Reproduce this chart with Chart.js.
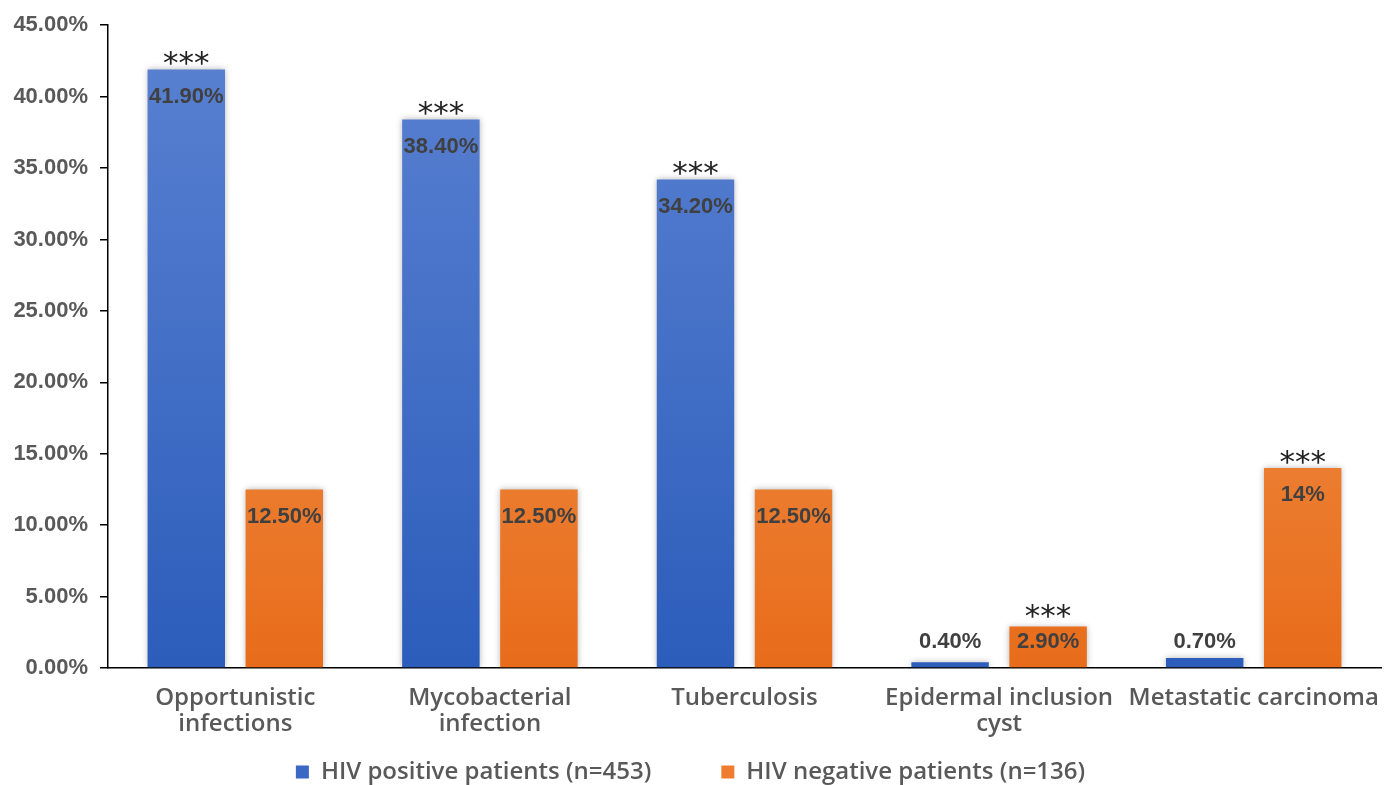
<!DOCTYPE html>
<html>
<head>
<meta charset="utf-8">
<script src="https://cdn.jsdelivr.net/npm/chart.js@4"></script>
<style>
html,body{margin:0;padding:0;background:#fff;}
#wrap{width:1395px;height:785px;position:relative;}
</style>
</head>
<body>
<div id="wrap"><canvas id="c"></canvas></div>
<script>
const categories = [["Opportunistic","infections"],["Mycobacterial","infection"],"Tuberculosis",["Epidermal inclusion","cyst"],"Metastatic carcinoma"];
const seriesNames = ["HIV positive patients (n=453)","HIV negative patients (n=136)"];
const hivPositive = [41.9, 38.4, 34.2, 0.4, 0.7];
const hivNegative = [12.5, 12.5, 12.5, 2.9, 14];
const positiveLabels = ["41.90%","38.40%","34.20%","0.40%","0.70%"];
const negativeLabels = ["12.50%","12.50%","12.50%","2.90%","14%"];
const positiveSig = ["***","***","***","",""];
const negativeSig = ["","","","***","***"];
const yTicks = [0,5,10,15,20,25,30,35,40,45];

function grad(ctx, chart, top, bottom){
  const area = chart.chartArea;
  if(!area) return top;
  const g = ctx.createLinearGradient(0, area.top, 0, area.bottom);
  g.addColorStop(0, top);
  g.addColorStop(1, bottom);
  return g;
}

const shadowPlugin = {
  id:'shadow',
  beforeDatasetsDraw(chart){
    const ctx = chart.ctx;
    ctx.save();
    ctx.shadowColor = 'rgba(0,0,0,0.28)';
    ctx.shadowBlur = 6;
  },
  afterDatasetsDraw(chart){
    chart.ctx.restore();
  }
};

const labelPlugin = {
  id:'barLabels',
  afterDatasetsDraw(chart){
    const ctx = chart.ctx;
    const labelSets = [positiveLabels, negativeLabels];
    const sigSets = [positiveSig, negativeSig];
    ctx.save();
    ctx.textAlign = 'center';
    chart.data.datasets.forEach((ds, di) => {
      const meta = chart.getDatasetMeta(di);
      meta.data.forEach((bar, i) => {
        const y = Math.min(bar.y + 27, bar.base - 25);
        ctx.fillStyle = '#404040';
        ctx.textBaseline = 'middle';
        ctx.font = 'bold 22px "Liberation Sans", Arial, sans-serif';
        ctx.fillText(labelSets[di][i], bar.x, y);
        const s = sigSets[di][i];
        if(s){
          ctx.fillStyle = '#222';
          ctx.font = '31px "DejaVu Sans", sans-serif';
          ctx.textBaseline = 'alphabetic';
          const c = Math.min(bar.y - 13, y - 33);
          ctx.fillText(s, bar.x, c + 17);
        }
      });
    });
    ctx.restore();
  }
};

new Chart(document.getElementById('c'), {
  type:'bar',
  data:{
    labels: categories,
    datasets:[
      {label: seriesNames[0], data: hivPositive,
       backgroundColor: c => grad(c.chart.ctx, c.chart, '#5b82d2', '#2c5dbb'),
       borderWidth:0},
      {label: seriesNames[1], data: hivNegative,
       backgroundColor: c => grad(c.chart.ctx, c.chart, '#f4a161', '#e86c1a'),
       borderWidth:0}
    ]
  },
  options:{
    responsive:true,
    maintainAspectRatio:false,
    animation:false,
    categoryPercentage:0.77,
    barPercentage:0.79,
    layout:{padding:{top:24, right:14, left:0, bottom:0}},
    plugins:{
      legend:{
        position:'bottom',
        maxHeight:35,
        labels:{
          boxWidth:13, boxHeight:13, padding:10,
          color:'#595959',
          font:{family:'"Open Sans", sans-serif', size:24, weight:'600'},
          generateLabels(chart){
            const cols = ['#3a68c4','#ee7d2f'];
            return chart.data.datasets.map((d,i)=>({
              text: i === 0 ? d.label + '\u2002\u2002\u2002\u2002\u2002' : d.label,
              fillStyle:cols[i], strokeStyle:cols[i], lineWidth:0,
              hidden:false, datasetIndex:i, fontColor:'#595959'
            }));
          }
        }
      },
      tooltip:{enabled:false}
    },
    scales:{
      x:{
        afterFit(s){ s.height = 82; },
        grid:{display:false},
        border:{display:true, color:'#000', width:1.5},
        ticks:{color:'#595959', padding:10,
          font:{family:'"Open Sans", sans-serif', size:24, weight:'600', lineHeight:1.05}, maxRotation:0, autoSkip:false}
      },
      y:{
        min:0, max:45,
        afterFit(s){ s.width = 108; },
        afterBuildTicks(s){ s.ticks = yTicks.map(v=>({value:v})); },
        grid:{display:true, drawOnChartArea:false, drawTicks:true, tickLength:8, color:'#000', lineWidth:1.5},
        border:{display:true, color:'#000', width:1.5},
        ticks:{color:'#595959', padding:12,
          font:{family:'"Liberation Sans", Arial, sans-serif', size:22, weight:'bold'},
          callback:v=>v.toFixed(2)+'%'}
      }
    }
  },
  plugins:[shadowPlugin, labelPlugin]
});
</script>
</body>
</html>
